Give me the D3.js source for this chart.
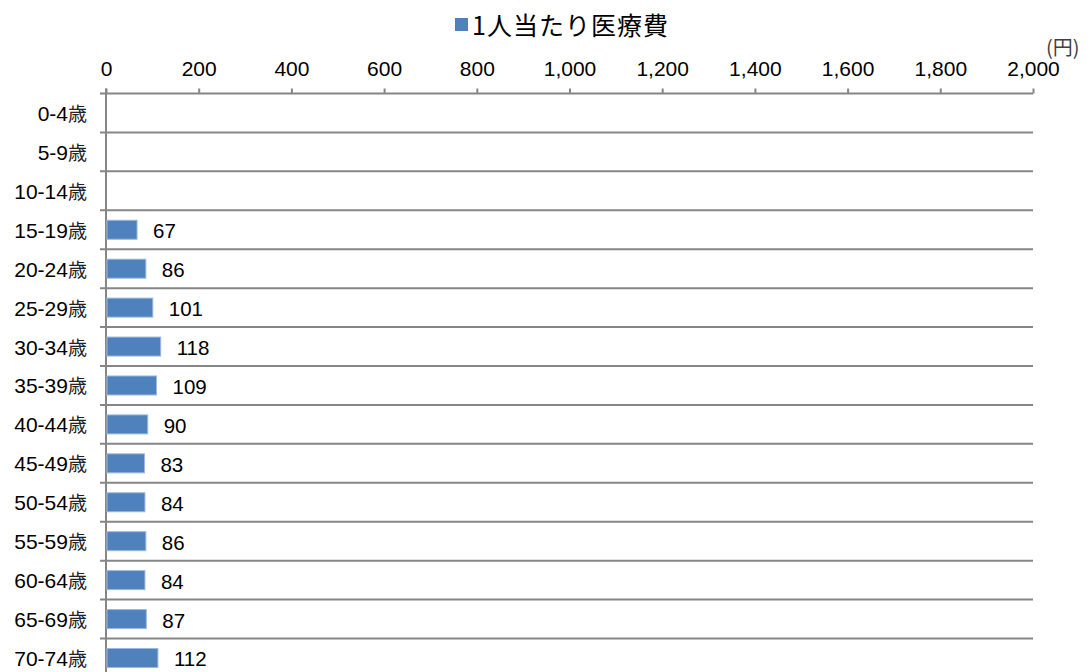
<!DOCTYPE html>
<html>
<head>
<meta charset="utf-8">
<script src="https://cdn.jsdelivr.net/npm/d3@7"></script>
<style>
  body { margin: 0; background: #fff; }
  text { font-family: "Liberation Sans", Arial, "Noto Sans CJK JP", sans-serif; fill: #000; }
</style>
</head>
<body>
<svg id="chart" width="1090" height="672"></svg>
<script>
// age groups and per-person medical cost (yen)
var ages = ["0-4歳", "5-9歳", "10-14歳", "15-19歳", "20-24歳", "25-29歳", "30-34歳",
            "35-39歳", "40-44歳", "45-49歳", "50-54歳", "55-59歳", "60-64歳", "65-69歳", "70-74歳"];
var costs = [null, null, null, 67, 86, 101, 118, 109, 90, 83, 84, 86, 84, 87, 112];
var xTicks = [0, 200, 400, 600, 800, 1000, 1200, 1400, 1600, 1800, 2000];

var svg = d3.select("#chart");
var plotLeft = 106, plotRight = 1033, plotTop = 93.5, rowH = 38.93;
var axisCol = "#868686";

var x = d3.scaleLinear().domain([0, 2000]).range([plotLeft, plotRight]);
var y = d3.scaleBand().domain(ages).range([plotTop, plotTop + ages.length * rowH]);

// title / legend
var title = svg.append("g");
title.append("rect")
    .attr("x", 455).attr("y", 18).attr("width", 13).attr("height", 13)
    .style("fill", "#4F81BD");
title.append("text")
    .attr("x", 472).attr("y", 35)
    .style("font-size", "25px")
    .style("letter-spacing", "1px")
    .style("font-family", "'Noto Sans CJK JP', sans-serif")
    .text("1人当たり医療費");

// unit
svg.append("text")
    .attr("x", 1046).attr("y", 55)
    .style("font-size", "20px")
    .style("fill", "#404040")
    .style("font-family", "'Noto Sans CJK JP', sans-serif")
    .text("(円)");

// horizontal gridlines between categories
svg.append("g").selectAll("line")
    .data(ages.slice(1))
    .enter().append("line")
    .attr("x1", plotLeft - 6).attr("x2", plotRight)
    .attr("y1", function(d){ return y(d); })
    .attr("y2", function(d){ return y(d); })
    .style("stroke", axisCol).style("stroke-width", 2);

// top axis
var xAxis = d3.axisTop(x).tickValues(xTicks).tickSize(5).tickPadding(12.5)
    .tickFormat(d3.format(","));
var gx = svg.append("g").attr("transform", "translate(0," + plotTop + ")").call(xAxis);
gx.select(".domain").attr("d", "M" + (plotLeft - 6) + ",0H" + plotRight)
    .style("stroke", axisCol).style("stroke-width", 2);
gx.selectAll(".tick line").style("stroke", axisCol).style("stroke-width", 2);
gx.selectAll(".tick text").style("font-size", "21px")
    .style("font-family", "'Liberation Sans', Arial, sans-serif").style("fill", "#000");

// vertical category axis line
svg.append("line")
    .attr("x1", plotLeft).attr("x2", plotLeft)
    .attr("y1", plotTop - 5).attr("y2", 672)
    .style("stroke", axisCol).style("stroke-width", 2);

// category labels (digits + slightly smaller 歳)
var cat = svg.append("g").selectAll("text")
    .data(ages)
    .enter().append("text")
    .attr("x", 87)
    .attr("y", function(d){ return y(d) + y.bandwidth() / 2 + 8; })
    .attr("text-anchor", "end")
    .style("font-size", "21px");
cat.append("tspan").text(function(d){ return d.replace("歳", ""); });
cat.append("tspan")
    .style("font-size", "19px")
    .style("fill", "#222")
    .style("font-family", "'Noto Sans CJK JP', sans-serif")
    .text("歳");

// bars
var data = ages.map(function(a, i){ return {age: a, v: costs[i]}; })
    .filter(function(d){ return d.v != null; });
var barH = 19;

svg.append("g").selectAll("rect")
    .data(data)
    .enter().append("rect")
    .attr("x", x(0) + 1)
    .attr("y", function(d){ return y(d.age) + (y.bandwidth() - barH) / 2; })
    .attr("width", function(d){ return x(d.v) - x(0) - 1; })
    .attr("height", barH)
    .style("fill", "#4F81BD")
    .style("stroke", "#9DB9DE")
    .style("stroke-width", 1);

// value labels
svg.append("g").selectAll("text")
    .data(data)
    .enter().append("text")
    .attr("x", function(d){ return x(d.v) + 16; })
    .attr("y", function(d){ return y(d.age) + y.bandwidth() / 2 + 8.5; })
    .style("font-size", "20.5px")
    .text(function(d){ return d.v; });
</script>
</body>
</html>
